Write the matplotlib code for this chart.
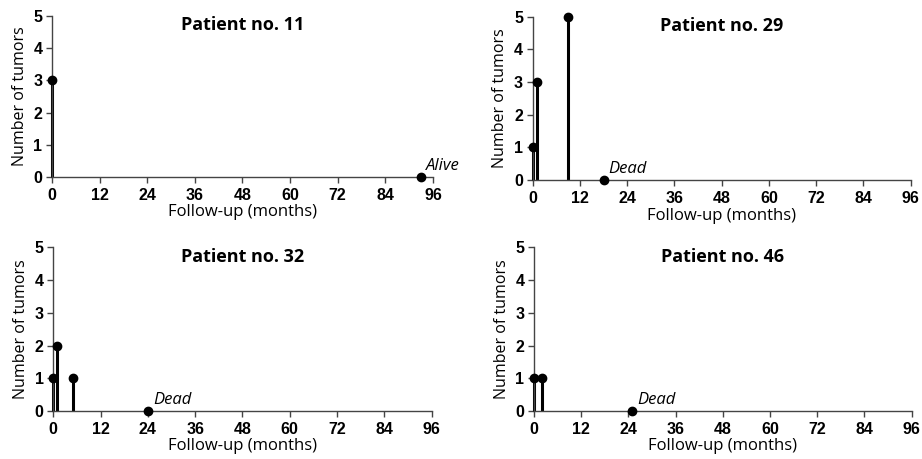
import matplotlib.pyplot as plt

# follow-up time (months) of each tumor recurrence and number of tumors
titles = ['Patient no. 11', 'Patient no. 29', 'Patient no. 32', 'Patient no. 46']
event_months = [[0], [0, 1, 9], [0, 1, 5], [0, 2]]
tumor_counts = [[3], [1, 3, 5], [1, 2, 1], [1, 1]]
last_followup = [93, 18, 24, 25]
status = ['Alive', 'Dead', 'Dead', 'Dead']
xticks = list(range(0, 97, 12))
yticks = [0, 1, 2, 3, 4, 5]

fig = plt.figure(figsize=(9.22, 4.59), dpi=100)
positions = [
    [0.0564, 0.6144, 0.4132, 0.3508],
    [0.5778, 0.6078, 0.4100, 0.3558],
    [0.0578, 0.1046, 0.4104, 0.3566],
    [0.5792, 0.1046, 0.4096, 0.3566],
]

for i in range(4):
    ax = fig.add_axes(positions[i])
    ax.vlines(event_months[i], 0, tumor_counts[i], color='black', lw=2.2, clip_on=False)
    ax.plot(event_months[i], tumor_counts[i], 'o', color='black', ms=6, clip_on=False, zorder=3)
    ax.plot([last_followup[i]], [0], 'o', color='black', ms=6, clip_on=False, zorder=3)
    ax.text(last_followup[i] + 1.3, 0.1, status[i], fontsize=12, fontstyle='italic',
            family='Open Sans', ha='left', va='bottom')
    ax.set_xlim(0, 96)
    ax.set_ylim(0, 5)
    ax.set_xticks(xticks)
    ax.set_yticks(yticks)
    for lab in ax.get_xticklabels() + ax.get_yticklabels():
        lab.set_fontweight('bold')
        lab.set_family('Liberation Sans')
        lab.set_fontsize(11.5)
    ax.spines['top'].set_visible(False)
    ax.spines['right'].set_visible(False)
    for s in ['left', 'bottom']:
        ax.spines[s].set_color('#444444')
        ax.spines[s].set_linewidth(1.0)
    ax.tick_params(axis='x', direction='out', length=4, width=1.0, color='#444444', pad=4)
    ax.tick_params(axis='y', direction='out', length=4, width=1.0, color='#444444', pad=3)
    ax.set_xlabel('Follow-up (months)', fontsize=12, family='Open Sans', labelpad=1)
    ax.set_ylabel('Number of tumors', fontsize=11.5, family='Open Sans', labelpad=4)
    ax.set_title(titles[i], fontsize=13, fontweight='bold', family='Open Sans', y=0.86)

fig.savefig('out.png', dpi=100)
